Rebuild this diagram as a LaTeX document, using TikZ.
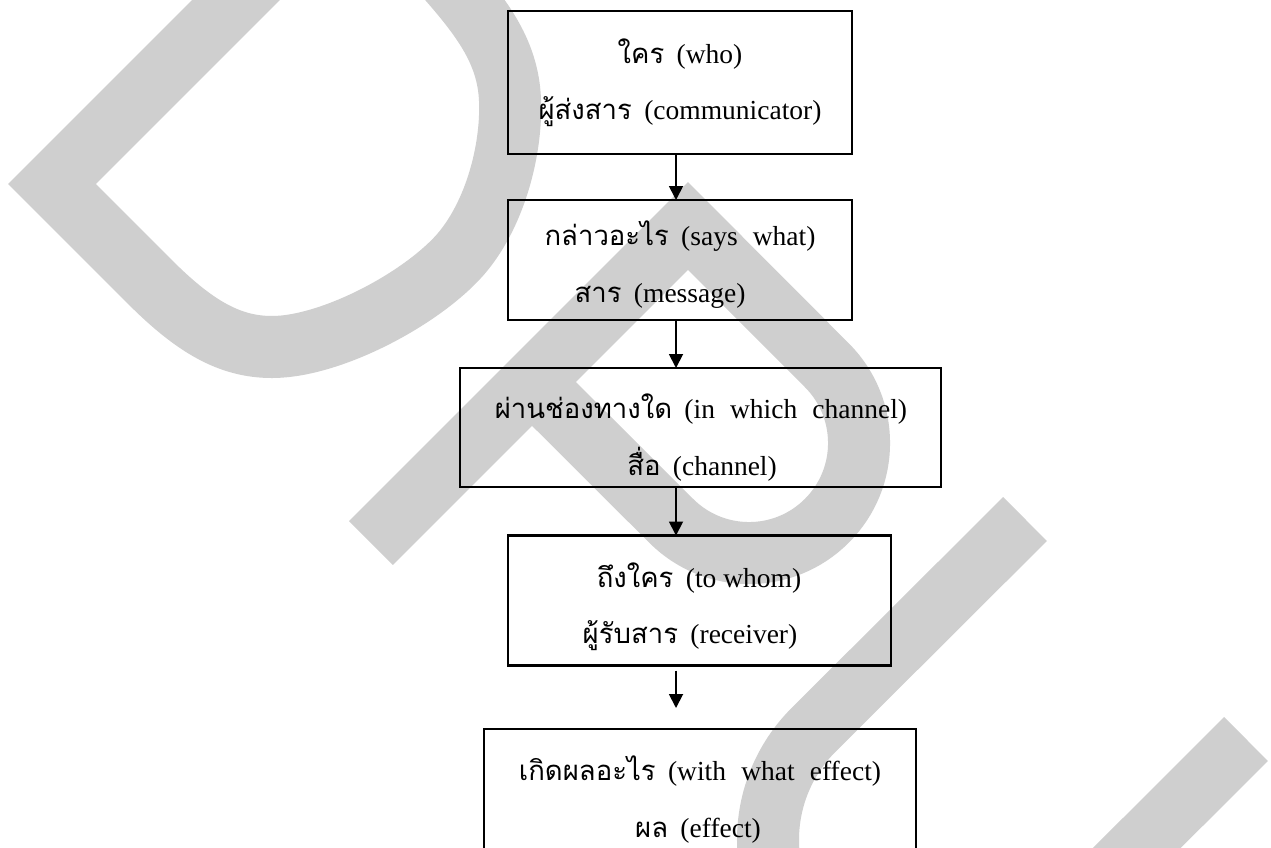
\documentclass[tikz,border=0pt]{standalone}
\usepackage{fontspec}
\setmainfont{Liberation Serif}
\newfontfamily\thaifont[Script=Thai]{Loma}
\usetikzlibrary{arrows.meta}
\definecolor{wm}{RGB}{207,207,207}
\newcommand{\thx}[1]{{\thaifont #1}}
\newcommand{\gp}{\hspace{0.45em}}
\newcommand{\wg}{\hspace{0.55em}}
\begin{document}
\begin{tikzpicture}[x=1pt,y=-1pt,
  wmark/.style={draw=wm, line width=62pt, line join=miter, line cap=butt},
  box/.style={draw, line width=2.6pt, inner sep=0pt, outer sep=0pt},
  lbl/.style={anchor=base, inner sep=0pt, font=\fontsize{27.5}{30}\selectfont},
  conn/.style={line width=1.8pt, -{Triangle[length=14pt,width=14pt]}}]
\useasboundingbox (0,0) rectangle (1271,847);
\fill[white] (0,0) rectangle (1271,847);
\begin{scope}
\clip (0,0) rectangle (1271,847);
% watermark D
\draw[wmark] (300,-64) -- (52,184) -- (150,282)
  .. controls (195,327) and (230,347) .. (272,347)
  .. controls (330,347) and (420,300) .. (460,255)
  .. controls (495,215) and (512,150) .. (510,100)
  .. controls (508,50) and (480,15) .. (440,-30) -- (400,-70);
% watermark P
\draw[wmark] (371,543) -- (688,226) -- (826.8,365.2)
  .. controls (869.8,408.2) and (869.8,477.9) .. (826.8,520.8)
  .. controls (783.9,563.8) and (714.2,563.8) .. (671.2,520.8)
  -- (525,375);
% watermark U
\draw[wmark] (1025,519) -- (813.7,729.7)
  .. controls (752.7,790.6) and (752.8,889.4) .. (813.7,950.3)
  .. controls (874.6,1011.2) and (973.4,1011.2) .. (1034.3,950.3)
  -- (1246,739);
% last box (runs past the bottom edge)
\node[box, minimum width=432pt, minimum height=151pt] (b5) at (700,804.5) {};
\end{scope}
\node[box, minimum width=344pt, minimum height=143pt] (b1) at (680,82.5) {};
\node[box, minimum width=344pt, minimum height=120pt] (b2) at (680,260) {};
\node[box, minimum width=481pt, minimum height=119pt] (b3) at (700.5,427.5) {};
\node[box, minimum width=383pt, minimum height=130pt] (b4) at (699.5,600.5) {};
\coordinate (ax) at (676,0);
% texts
\node[lbl] (t1a) at (680,63) {\thx{ใคร}\gp(who)};
\node[lbl] (t1b) at (680,119) {\thx{ผู้ส่งสาร}\gp(communicator)};
\node[lbl] (t2a) at (680,245) {\thx{กล่าวอะไร}\gp(says\wg what)};
\node[lbl] (t2b) at (660,302) {\thx{สาร}\gp(message)};
\node[lbl] (t3a) at (701,418) {\thx{ผ่านช่องทางใด}\gp(in\wg which\wg channel)};
\node[lbl] (t3b) at (702,475) {\thx{สื่อ}\gp(channel)};
\node[lbl] (t4a) at (699,587) {\thx{ถึงใคร}\gp(to whom)};
\node[lbl] (t4b) at (690,643) {\thx{ผู้รับสาร}\gp(receiver)};
\node[lbl] (t5a) at (700,780) {\thx{เกิดผลอะไร}\gp(with\wg what\wg effect)};
\node[lbl] (t5b) at (698,837) {\thx{ผล}\gp(effect)};
% connectors
\draw[conn] (b1.south -| ax) -- (b2.north -| ax);
\draw[conn] (b2.south -| ax) -- (b3.north -| ax);
\draw[conn] (b3.south -| ax) -- (b4.north -| ax);
\draw[conn] ([yshift=-5pt]b4.south -| ax) -- ([yshift=21pt]b5.north -| ax);
\end{tikzpicture}
\end{document}
